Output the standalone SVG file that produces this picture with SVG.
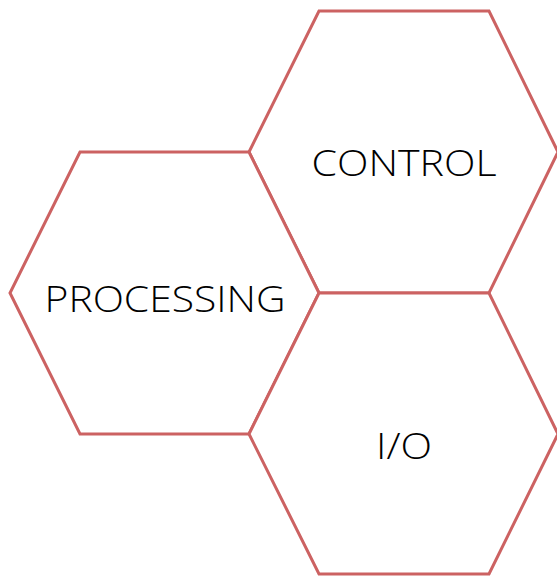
<svg xmlns="http://www.w3.org/2000/svg" width="557" height="576" viewBox="0 0 557 576">
  <style>
    .hex { fill: #ffffff; stroke: #CC6262; stroke-width: 3; stroke-linejoin: miter; }
    .label { font-family: "Open Sans", "Liberation Sans", sans-serif; font-size: 36px; font-weight: 300; fill: #000000; text-anchor: middle; }
  </style>
  <rect width="557" height="576" fill="#ffffff"/>
  <g id="control">
    <polygon class="hex" points="319,11 489,11 558,152 489,293 319,293 249,152"/>
    <text class="label" x="404" y="176" textLength="185" lengthAdjust="spacingAndGlyphs">CONTROL</text>
  </g>
  <g id="processing">
    <polygon class="hex" points="80,152 249,152 319,293 249,434 80,434 10,293"/>
    <text class="label" x="165" y="312" textLength="241" lengthAdjust="spacingAndGlyphs">PROCESSING</text>
  </g>
  <g id="io">
    <polygon class="hex" points="319,293 489,293 558,434 489,574 319,574 249,434"/>
    <text class="label" x="404" y="459" textLength="56" lengthAdjust="spacingAndGlyphs">I/O</text>
  </g>
  <g id="connectors"></g>
</svg>
